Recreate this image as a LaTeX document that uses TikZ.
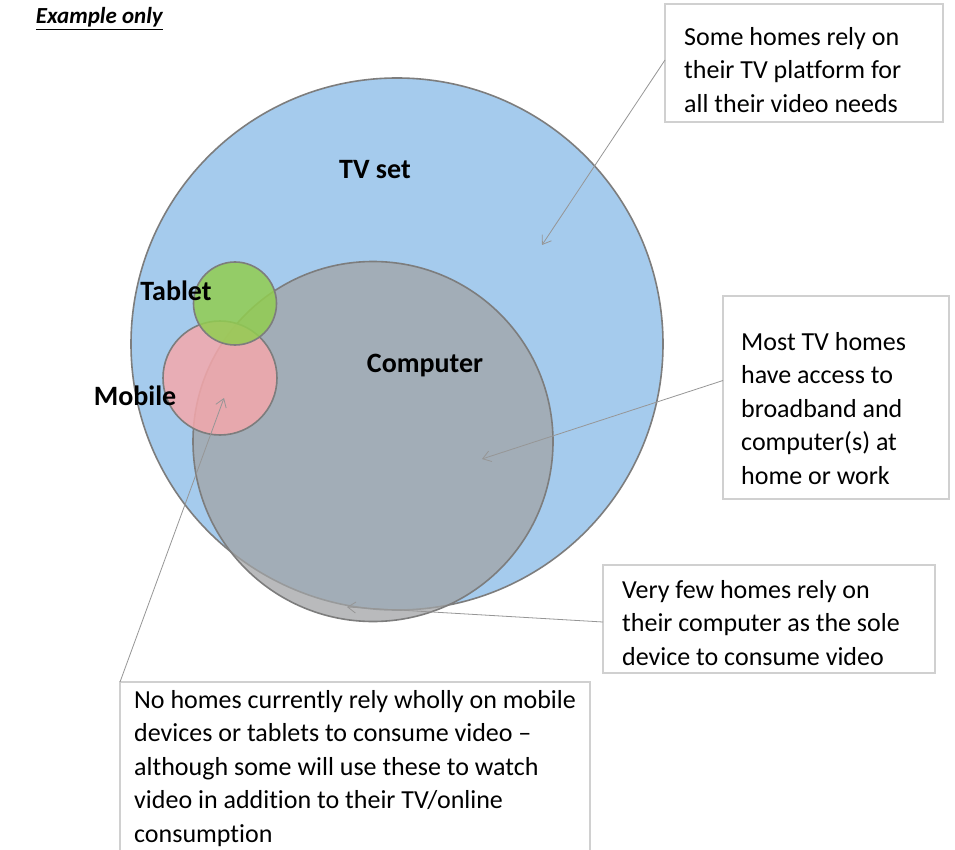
\documentclass[tikz,border=0pt]{standalone}
\usepackage{fontspec}
\setmainfont{Carlito}[Ligatures={NoCommon}]
\usetikzlibrary{arrows.meta}
\definecolor{tvblue}{RGB}{165,203,237}
\definecolor{compgray}{RGB}{162,164,166}
\definecolor{mobpink}{RGB}{244,168,172}
\definecolor{tabgreen}{RGB}{146,205,80}
\definecolor{ringgray}{RGB}{125,125,125}
\definecolor{boxgray}{RGB}{208,208,208}
\definecolor{linegray}{RGB}{150,150,150}
\begin{document}
\begin{tikzpicture}[x=1pt,y=-1pt,
  ring/.style={circle, draw=ringgray, line width=1.6pt, inner sep=0pt, outer sep=0pt},
  lbl/.style={font=\fontsize{28}{34}\selectfont\bfseries, text=black, inner sep=0pt},
  calloutbox/.style={draw=boxgray, line width=1.3pt, fill=white, anchor=north west,
    inner sep=0pt, outer sep=0pt},
  callouttext/.style={anchor=north west, align=left, inner sep=0pt,
    font=\fontsize{26}{33.5}\selectfont, text=black},
  pointer/.style={draw=linegray, line width=0.8pt,
    -{Straight Barb[length=8pt,width=11pt]}}]
\clip (0,0) rectangle (955,850);
\fill[white] (0,0) rectangle (955,850);

% title
\node[font=\fontsize{23}{28}\selectfont\bfseries\itshape, anchor=base east, inner sep=0pt]
  (title) at (163,24) {\underline{Example only}};

% circles
\node[ring, minimum size=532pt, fill=tvblue] (tv) at (397,344) {};
\node[ring, minimum size=360pt, fill=compgray, fill opacity=0.75] (comp) at (373,441.5) {};
\node[ring, minimum size=114pt, fill=mobpink, fill opacity=0.85] (mob) at (220,378) {};
\node[ring, minimum size=83pt, fill=tabgreen, fill opacity=0.85] (tab) at (235,303.5) {};

% labels
\node[lbl] (tvl) at (375,170) {TV set};
\node[lbl] (tabl) at (176,291) {Tablet};
\node[lbl] (compl) at (425,366) {Computer};
\node[lbl] (mobl) at (135,396) {Mobile};

% callout boxes
\node[calloutbox, minimum width=278pt, minimum height=118pt] (b1) at (665,4) {};
\node[callouttext] (t1) at (684,27)
  {Some homes rely on\\their TV platform for\\all their video needs};
\node[calloutbox, minimum width=226pt, minimum height=203pt] (b2) at (723,296) {};
\node[callouttext] (t2) at (741,332)
  {Most TV homes\\have access to\\broadband and\\computer(s) at\\home or work};
\node[calloutbox, minimum width=332pt, minimum height=108pt] (b3) at (603,565) {};
\node[callouttext] (t3) at (622,580)
  {Very few homes rely on\\their computer as the sole\\device to consume video};
\node[calloutbox, minimum width=470pt, minimum height=190pt] (b4) at (120,682) {};
\node[callouttext] (t4) at (134,690)
  {No homes currently rely wholly on mobile\\devices or tablets to consume video --\\although some will use these to watch\\video in addition to their TV/online\\consumption};

% pointers
\coordinate (p1) at (542,245);
\coordinate (p2) at (482,459);
\coordinate (p3) at (347,607);
\coordinate (p4) at (224,398);
\draw[pointer] ([yshift=3pt]b1.west) -- (p1);
\draw[pointer] ([yshift=17pt]b2.west) -- (p2);
\draw[pointer] ([yshift=-3pt]b3.west) -- (p3);
\draw[pointer] (b4.north west) -- (p4);
\end{tikzpicture}
\end{document}
